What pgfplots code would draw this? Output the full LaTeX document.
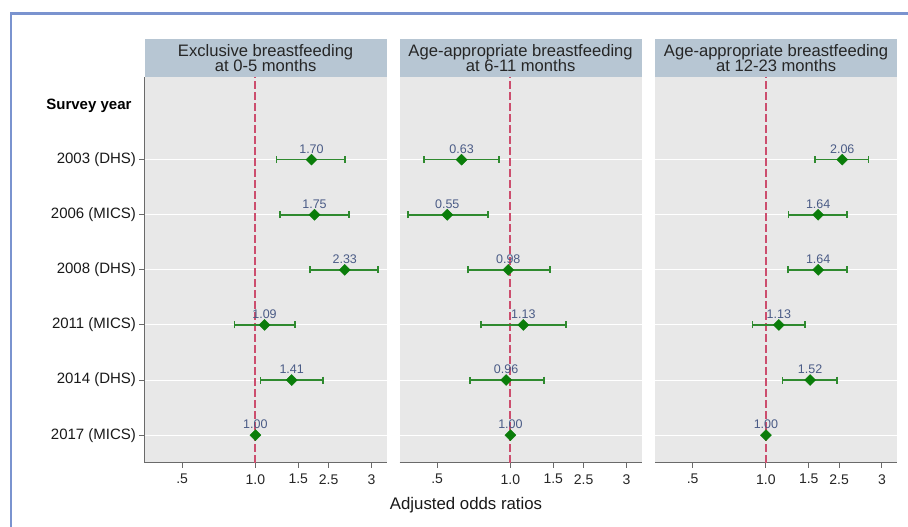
\documentclass[border=0pt]{standalone}
\usepackage{fontspec}
\setmainfont{Liberation Sans}
\usepackage{pgfplots}
\pgfplotsset{compat=1.18}
\usepackage{pgfplotstable}

\definecolor{framecol}{HTML}{7A93CF}
\definecolor{hdrcol}{HTML}{B7C6D3}
\definecolor{bggray}{HTML}{E8E8E8}
\definecolor{mkgreen}{HTML}{0A7D0A}
\definecolor{cigreen}{HTML}{2F8A2F}
\definecolor{refred}{HTML}{CC4E6E}
\definecolor{labcol}{HTML}{4A5B86}
\definecolor{axcol}{HTML}{6A6A6A}

% row: 6=2003 ... 1=2017 ; odds ratio, lower CI, upper CI, label
\pgfplotstableread{
row or lo hi lab
6 1.70 1.22 2.34 1.70
5 1.75 1.26 2.42 1.75
4 2.33 1.68 3.19 2.33
3 1.09 0.82 1.45 1.09
2 1.41 1.05 1.90 1.41
1 1.00 1.00 1.00 1.00
}\tabA
\pgfplotstableread{
row or lo hi lab
6 0.63 0.44 0.90 0.63
5 0.55 0.38 0.81 0.55
4 0.98 0.67 1.45 0.98
3 1.13 0.755 1.69 1.13
2 0.96 0.68 1.37 0.96
1 1.00 1.00 1.00 1.00
}\tabB
\pgfplotstableread{
row or lo hi lab
6 2.06 1.59 2.64 2.06
5 1.64 1.24 2.16 1.64
4 1.64 1.23 2.16 1.64
3 1.13 0.88 1.45 1.13
2 1.52 1.17 1.96 1.52
1 1.00 1.00 1.00 1.00
}\tabC

\pgfplotsset{
  mypanel/.style={
    anchor=south west, scale only axis, width=242.3pt, height=385.7pt,
    xmin=-1.0498, xmax=1.2436, ymin=0.5, ymax=7.5,
    xtick={-0.693147,0,0.405465,0.693147,1.098612}, xticklabels={.5,1.0,1.5,2.5,3},
    ytick={1,2,3,4,5,6},
    axis background/.style={fill=bggray},
    axis x line*=bottom, axis y line*=left,
    axis line style={axcol, line width=1.1pt},
    tick align=outside, major tick length=5pt,
    tick style={axcol, line width=1pt},
    ymajorgrids,
    major grid style={white, line width=1pt},
    clip=false,
    x tick label style={font=\fontsize{14}{15}\selectfont, text=black!85, yshift=-3pt},
    y tick label style={font=\fontsize{15}{16}\selectfont, text=black!90},
  },
  myrefline/.style={color=refred, solid, line width=2pt, dash pattern=on 7.5pt off 3.5pt, forget plot},
  myforest/.style={
    only marks, mark=square*, mark size=3.9pt,
    mark options={rotate=45, fill=mkgreen, draw=mkgreen, solid},
    color=mkgreen,
    nodes near coords, point meta=explicit symbolic,
    every node near coord/.append style={font=\fontsize{12.5}{13}\selectfont, text=labcol, anchor=base, inner sep=0pt, yshift=6.5pt},
    error bars/x dir=both, error bars/x explicit,
    error bars/error mark=|,
    error bars/error bar style={color=cigreen, line width=1.7pt},
    error bars/error mark options={color=cigreen, mark size=3.5pt, line width=1.7pt},
  },
}

\newcommand{\forestplot}[1]{%
  \addplot[myrefline] coordinates {(0,0.5) (0,7.5)};
  \addplot[myforest] table[x expr={ln(\thisrow{or})}, y=row, meta=lab,
    x error minus expr={ln(\thisrow{or})-ln(\thisrow{lo})},
    x error plus expr={ln(\thisrow{hi})-ln(\thisrow{or})}]{#1};
}

\begin{document}
\begin{tikzpicture}[x=1pt,y=1pt]
\useasboundingbox (0pt,0pt) rectangle (908pt,527pt);
\fill[white] (0pt,0pt) rectangle (908pt,527pt);

\begin{axis}[mypanel, at={(144.5pt,64.3pt)},
  yticklabels={2017 (MICS),2014 (DHS),2011 (MICS),2008 (DHS),2006 (MICS),2003 (DHS)}]
\forestplot{\tabA}
\end{axis}

\begin{axis}[mypanel, at={(399.5pt,64.3pt)}, yticklabels={},
  y axis line style={draw=none}, ytick style={draw=none}]
\forestplot{\tabB}
\end{axis}

\begin{axis}[mypanel, at={(655pt,64.3pt)}, yticklabels={},
  y axis line style={draw=none}, ytick style={draw=none}]
\forestplot{\tabC}
\end{axis}

% headers
\fill[hdrcol] (144.5pt,450.3pt) rectangle (386.8pt,487.7pt);
\fill[hdrcol] (399.5pt,450.3pt) rectangle (641.8pt,487.7pt);
\fill[hdrcol] (655pt,450.3pt) rectangle (897.3pt,487.7pt);
\node[align=center, font=\fontsize{16.6}{15.8}\selectfont, text=black!85] at (265.6pt,469pt) {Exclusive breastfeeding\\at 0-5 months};
\node[align=center, font=\fontsize{16.6}{15.8}\selectfont, text=black!85] at (520.6pt,469pt) {Age-appropriate breastfeeding\\at 6-11 months};
\node[align=center, font=\fontsize{16.6}{15.8}\selectfont, text=black!85] at (776.1pt,469pt) {Age-appropriate breastfeeding\\at 12-23 months};

\node[anchor=east, font=\bfseries\fontsize{15}{16}\selectfont] at (135pt,421.3pt) {Survey year};
\node[font=\fontsize{16.8}{17}\selectfont, text=black!90] at (466pt,21.5pt) {Adjusted odds ratios};

\draw[framecol, line width=2.5pt] (11pt,-20pt) -- (11pt,513.7pt) -- (930pt,513.7pt);
\end{tikzpicture}
\end{document}
